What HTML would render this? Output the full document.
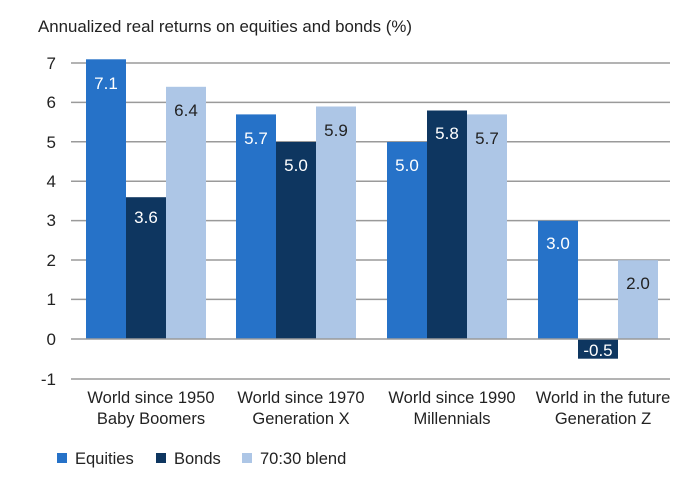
<!DOCTYPE html>
<html><head><style>body{margin:0;background:#fff}svg{display:block}text{font-family:"Liberation Sans",sans-serif}</style></head>
<body>
<svg width="690" height="483" viewBox="0 0 690 483">
<text x="38" y="32" font-size="16.5" fill="#222" textLength="374" lengthAdjust="spacingAndGlyphs">Annualized real returns on equities and bonds (%)</text>
<g stroke="#9a9a9a" stroke-width="1.5">
<line x1="71" x2="670" y1="63" y2="63"/><line x1="71" x2="670" y1="102.4" y2="102.4"/><line x1="71" x2="670" y1="141.8" y2="141.8"/><line x1="71" x2="670" y1="181.2" y2="181.2"/><line x1="71" x2="670" y1="220.6" y2="220.6"/><line x1="71" x2="670" y1="260" y2="260"/><line x1="71" x2="670" y1="299.4" y2="299.4"/><line x1="71" x2="670" y1="379" y2="379"/>
</g>
<g font-size="17" fill="#222" text-anchor="end">
<text x="56" y="69">7</text><text x="56" y="108">6</text><text x="56" y="148">5</text><text x="56" y="187">4</text><text x="56" y="226">3</text><text x="56" y="266">2</text><text x="56" y="305">1</text><text x="56" y="345">0</text><text x="56" y="385">-1</text>
</g>
<g>
<rect x="86" y="59.3" width="40" height="279.7" fill="#2672c8"/>
<rect x="126" y="197.2" width="40" height="141.8" fill="#0e3660"/>
<rect x="166" y="86.8" width="40" height="252.2" fill="#adc6e6"/>
<rect x="236" y="114.4" width="40" height="224.6" fill="#2672c8"/>
<rect x="276" y="142" width="40" height="197" fill="#0e3660"/>
<rect x="316" y="106.5" width="40" height="232.5" fill="#adc6e6"/>
<rect x="387" y="142" width="40" height="197" fill="#2672c8"/>
<rect x="427" y="110.5" width="40" height="228.5" fill="#0e3660"/>
<rect x="467" y="114.4" width="40" height="224.6" fill="#adc6e6"/>
<rect x="538" y="220.8" width="40" height="118.2" fill="#2672c8"/>
<rect x="578" y="339" width="40" height="19.7" fill="#0e3660"/>
<rect x="618" y="260.2" width="40" height="78.8" fill="#adc6e6"/>
</g>
<line x1="71" x2="670" y1="339" y2="339" stroke="#9a9a9a" stroke-width="1.5"/>
<g font-size="17" text-anchor="middle">
<text x="106" y="89" fill="#fff">7.1</text>
<text x="146" y="223" fill="#fff">3.6</text>
<text x="186" y="116" fill="#222">6.4</text>
<text x="256" y="144" fill="#fff">5.7</text>
<text x="296" y="171" fill="#fff">5.0</text>
<text x="336" y="136" fill="#222">5.9</text>
<text x="407" y="171" fill="#fff">5.0</text>
<text x="447" y="139" fill="#fff">5.8</text>
<text x="487" y="144" fill="#222">5.7</text>
<text x="558" y="249" fill="#fff">3.0</text>
<text x="598" y="356" fill="#fff">-0.5</text>
<text x="638" y="289" fill="#222">2.0</text>
</g>
<g font-size="16.5" fill="#222" text-anchor="middle">
<text x="151" y="403">World since 1950</text><text x="151" y="424">Baby Boomers</text>
<text x="301" y="403">World since 1970</text><text x="301" y="424">Generation X</text>
<text x="452" y="403">World since 1990</text><text x="452" y="424">Millennials</text>
<text x="603" y="403">World in the future</text><text x="603" y="424">Generation Z</text>
</g>
<g font-size="16.5" fill="#222">
<rect x="57" y="453" width="10" height="10" fill="#2672c8"/><text x="75" y="464">Equities</text>
<rect x="156" y="453" width="10" height="10" fill="#0e3660"/><text x="174" y="464">Bonds</text>
<rect x="242" y="453" width="10" height="10" fill="#adc6e6"/><text x="260" y="464">70:30 blend</text>
</g>
</svg>
</body></html>
